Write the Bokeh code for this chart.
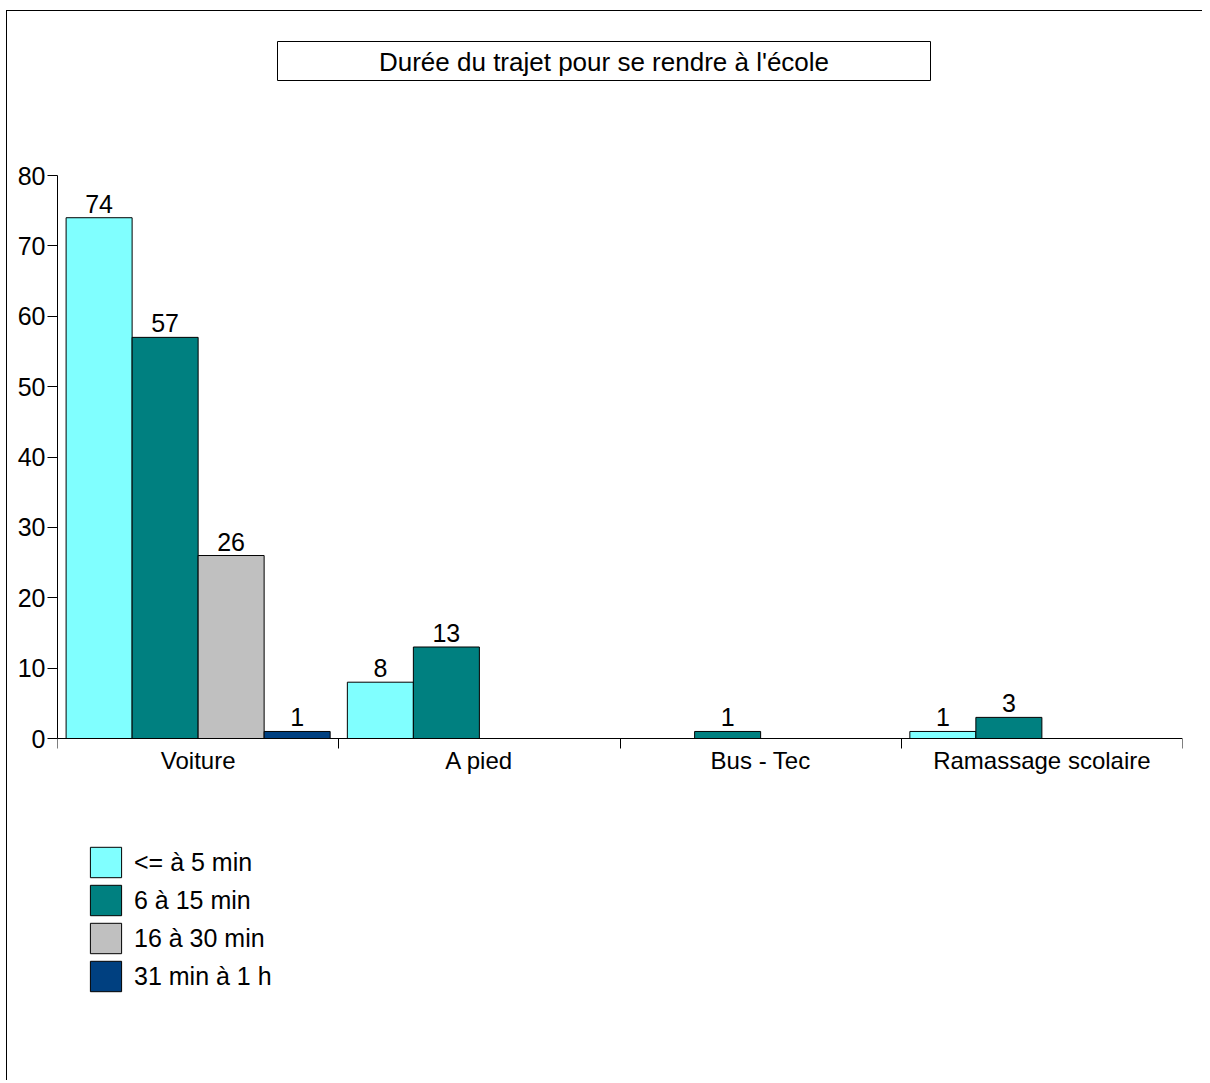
from bokeh.plotting import figure
from bokeh.models import (ColumnDataSource, FixedTicker, Legend, LegendItem, Label,
                          BoxAnnotation, LabelSet, Range1d, LinearAxis)
from bokeh.embed import file_html
from bokeh.resources import INLINE
from bokeh.core.properties import value

# ---- data ----
title_text = "Durée du trajet pour se rendre à l'école"
categories = ["Voiture", "A pied", "Bus - Tec", "Ramassage scolaire"]
series_names = ["<= à 5 min", "6 à 15 min", "16 à 30 min", "31 min à 1 h"]
le_5_min = [74, 8, 0, 1]
from_6_to_15 = [57, 13, 1, 3]
from_16_to_30 = [26, 0, 0, 0]
from_31_to_60 = [1, 0, 0, 0]
series_values = [le_5_min, from_6_to_15, from_16_to_30, from_31_to_60]
colors = ["#80FFFF", "#008080", "#C0C0C0", "#004080"]
y_ticks = [0, 10, 20, 30, 40, 50, 60, 70, 80]

FONT = "Liberation Sans"
n_cat = len(categories)
n_ser = len(series_names)
bar_w = 0.2347

# ---- layout (page pixels) ----
PAGE_LEFT, PAGE_TOP = 7, 11          # canvas origin on the page
AX_LEFT, AX_RIGHT = 57, 1182         # x extent of the category axis
Y0_PX, Y80_PX = 738, 175             # pixel rows of 0 and 80
FRAME_TOP, FRAME_BOTTOM = PAGE_TOP, 1080
PX = (Y0_PX - Y80_PX) / 80.0
UX = (AX_RIGHT - AX_LEFT) / n_cat
y_hi = 80 + (Y80_PX - FRAME_TOP) / PX
y_lo = -(FRAME_BOTTOM - Y0_PX) / PX


def dx(px):
    return (px - AX_LEFT) / UX


def dy(py):
    return (Y0_PX - py) / PX


p = figure(frame_width=AX_RIGHT - AX_LEFT, frame_height=FRAME_BOTTOM - FRAME_TOP,
           min_border_left=AX_LEFT - PAGE_LEFT, min_border_top=0, min_border_right=20,
           min_border_bottom=0,
           x_range=Range1d(0, n_cat), y_range=Range1d(y_lo, y_hi),
           x_axis_location=None,
           output_backend="svg", toolbar_location=None)
p.styles = {"margin-left": "6px", "margin-top": "10px",
            "border-left": "1px solid #000", "border-top": "1px solid #000"}
p.xgrid.visible = False
p.ygrid.visible = False
p.outline_line_color = None
p.background_fill_color = "white"
p.border_fill_color = "white"

# y axis
ya = p.yaxis[0]
ya.ticker = FixedTicker(ticks=y_ticks, minor_ticks=[])
ya.bounds = (0, 80)
ya.major_tick_out = 10
ya.major_tick_in = 0
ya.major_label_standoff = 2
ya.major_label_text_font = FONT
ya.major_label_text_font_size = "25px"
ya.major_label_text_color = "black"
ya.axis_line_color = "black"
ya.major_tick_line_color = "black"

# x axis at y = 0: labels at centres, ticks at boundaries
centers = [i + 0.5 for i in range(n_cat)]
bounds = [float(i) for i in range(n_cat + 1)]
xa = LinearAxis(fixed_location=0)
xa.ticker = FixedTicker(ticks=centers, minor_ticks=bounds)
xa.major_label_overrides = {c: lab for c, lab in zip(centers, categories)}
xa.major_tick_out = 0
xa.major_tick_in = 0
xa.minor_tick_out = 10
xa.minor_tick_in = 0
xa.minor_tick_line_color = "black"
xa.axis_line_color = "black"
xa.major_label_standoff = -2
xa.major_label_text_font = FONT
xa.major_label_text_font_size = "24px"
xa.major_label_text_color = "black"
p.add_layout(xa, "below")

items = []
for j, (name, vals, col) in enumerate(zip(series_names, series_values, colors)):
    xs, tops, labs = [], [], []
    for i, v in enumerate(vals):
        if v:
            xs.append(i + 0.5 + (j - (n_ser - 1) / 2) * bar_w)
            tops.append(v)
            labs.append(str(v))
    src = ColumnDataSource(dict(x=xs, top=tops, label=labs))
    r = p.vbar(x="x", top="top", bottom=0, width=bar_w, source=src,
               fill_color=col, line_color="black", line_width=1)
    items.append(LegendItem(label=name, renderers=[r]))
    p.add_layout(LabelSet(x="x", y="top", text="label", source=src, y_offset=5,
                          text_align="center", text_baseline="bottom",
                          text_font=value(FONT), text_font_size=value("25px"),
                          text_color="black"))

legend = Legend(items=items, location=(89 - AX_LEFT - 3, FRAME_BOTTOM - 995),
                orientation="vertical",
                glyph_width=39, glyph_height=38, spacing=0, padding=0, margin=0,
                label_standoff=9, label_text_font=FONT, label_text_font_size="25px",
                label_text_color="black", label_height=38,
                border_line_color=None, background_fill_alpha=0)
p.add_layout(legend, "center")

# title box
p.add_layout(BoxAnnotation(left=dx(277), right=dx(930), bottom=dy(80), top=dy(41),
                           fill_color="white", fill_alpha=1, line_color="black",
                           line_alpha=1, line_width=1))
p.add_layout(Label(x=dx(603.5), y=dy(61), text=title_text, text_align="center",
                   text_baseline="middle", text_font=FONT, text_font_size="26px",
                   text_color="black"))

open("out.html", "w").write(file_html(p, INLINE))
